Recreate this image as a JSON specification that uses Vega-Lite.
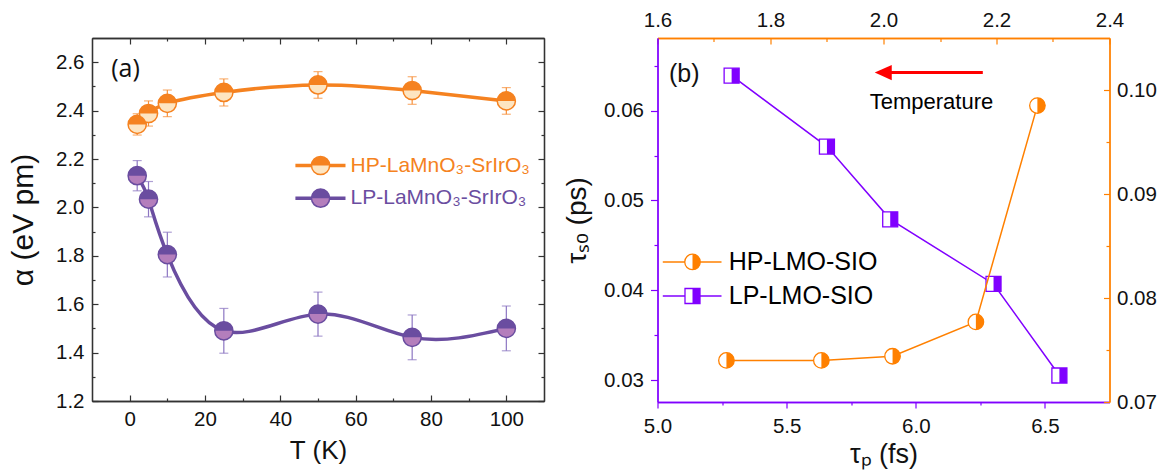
{
  "$schema": "https://vega.github.io/schema/vega-lite/v6.json",
  "background": "white",
  "padding": {"left": 8, "top": 10, "right": 5, "bottom": 5},
  "bounds": "flush",
  "spacing": 113.5,
  "datasets": {
    "alpha": [
      {"T": 2, "alpha": 2.343, "err": 0.044, "series": "HP"},
      {"T": 5, "alpha": 2.388, "err": 0.052, "series": "HP"},
      {"T": 10, "alpha": 2.43, "err": 0.055, "series": "HP"},
      {"T": 25, "alpha": 2.475, "err": 0.056, "series": "HP"},
      {"T": 50, "alpha": 2.506, "err": 0.055, "series": "HP"},
      {"T": 75, "alpha": 2.483, "err": 0.057, "series": "HP"},
      {"T": 100, "alpha": 2.44, "err": 0.055, "series": "HP"},
      {"T": 2, "alpha": 2.131, "err": 0.0625, "series": "LP"},
      {"T": 5, "alpha": 2.034, "err": 0.073, "series": "LP"},
      {"T": 10, "alpha": 1.805, "err": 0.0925, "series": "LP"},
      {"T": 25, "alpha": 1.49, "err": 0.0925, "series": "LP"},
      {"T": 50, "alpha": 1.559, "err": 0.091, "series": "LP"},
      {"T": 75, "alpha": 1.463, "err": 0.0925, "series": "LP"},
      {"T": 100, "alpha": 1.5, "err": 0.0925, "series": "LP"}
    ],
    "lp": [
      {"tau_p": 5.287, "tau_so": 0.0639},
      {"tau_p": 5.656, "tau_so": 0.056},
      {"tau_p": 5.901, "tau_so": 0.0479},
      {"tau_p": 6.301, "tau_so": 0.0407},
      {"tau_p": 6.556, "tau_so": 0.0305}
    ],
    "hp": [
      {"tau_p": 1.722, "tau_so": 0.074},
      {"tau_p": 1.89, "tau_so": 0.074},
      {"tau_p": 2.016, "tau_so": 0.0744},
      {"tau_p": 2.1635, "tau_so": 0.0777},
      {"tau_p": 2.2724, "tau_so": 0.0985}
    ]
  },
  "config": {
    "view": {"stroke": null},
    "axis": {
      "grid": false,
      "labelFont": "Liberation Sans",
      "titleFont": "Liberation Sans",
      "labelFontSize": 20.5,
      "titleFontWeight": "normal",
      "labelColor": "#111111",
      "titleColor": "#111111",
      "labelFlush": false,
      "labelOverlap": false,
      "domainWidth": 1.3,
      "tickWidth": 1.2,
      "domainColor": "#333333",
      "tickColor": "#333333"
    }
  },
  "hconcat": [
    {
      "width": 452,
      "height": 363,
      "resolve": {
        "scale": {"fill": "independent", "stroke": "independent", "color": "independent"},
        "axis": {"x": "independent", "y": "independent"}
      },
      "layer": [
        {
          "data": {"name": "alpha"},
          "mark": {"type": "line", "interpolate": "natural", "strokeWidth": 3.5},
          "encoding": {
            "x": {"field": "T", "type": "quantitative", "scale": {"domain": [-10, 110], "nice": false, "zero": false},
              "axis": {"orient": "bottom", "values": [0, 20, 40, 60, 80, 100], "tickSize": -6, "labelPadding": 14, "title": "T (K)", "titleFontSize": 26, "titlePadding": 8}},
            "y": {"field": "alpha", "type": "quantitative", "scale": {"domain": [1.2, 2.7], "nice": false, "zero": false},
              "axis": {"orient": "left", "values": [1.2, 1.4, 1.6, 1.8, 2.0, 2.2, 2.4, 2.6], "format": ".1f", "tickSize": -6, "labelPadding": 14, "title": "α (eV pm)", "titleFontSize": 30, "titlePadding": 17}},
            "stroke": {"field": "series", "type": "nominal", "scale": {"domain": ["HP", "LP"], "range": ["#F58220", "#6A4DA0"]}, "legend": null}
          }
        },
        {
          "data": {"name": "alpha"},
          "mark": {"type": "errorbar", "ticks": {"size": 9, "thickness": 1.2}, "thickness": 1.2},
          "encoding": {
            "x": {"field": "T", "type": "quantitative", "scale": {"domain": [-10, 110], "nice": false, "zero": false}, "axis": null},
            "y": {"field": "alpha", "type": "quantitative", "scale": {"domain": [1.2, 2.7], "nice": false, "zero": false}, "axis": null},
            "yError": {"field": "err"},
            "color": {"field": "series", "type": "nominal", "scale": {"domain": ["HP", "LP"], "range": ["#F7903A", "#8C76C2"]}, "legend": null}
          }
        },
        {
          "data": {"name": "alpha"},
          "mark": {"type": "point", "shape": "circle", "filled": true, "size": 330, "strokeWidth": 1.5, "opacity": 1},
          "encoding": {
            "x": {"field": "T", "type": "quantitative", "scale": {"domain": [-10, 110], "nice": false, "zero": false},
              "axis": {"orient": "bottom", "values": [10, 30, 50, 70, 90], "tickSize": -3, "labels": false, "title": null}},
            "y": {"field": "alpha", "type": "quantitative", "scale": {"domain": [1.2, 2.7], "nice": false, "zero": false},
              "axis": {"orient": "left", "values": [1.3, 1.5, 1.7, 1.9, 2.1, 2.3, 2.5], "tickSize": -3, "labels": false, "title": null}},
            "fill": {"field": "series", "type": "nominal", "scale": {"domain": ["HP", "LP"], "range": ["#FDE5C2", "#B47EBC"]}, "legend": null},
            "stroke": {"field": "series", "type": "nominal", "scale": {"domain": ["HP", "LP"], "range": ["#F58220", "#6A4DA0"]}, "legend": null}
          }
        },
        {
          "data": {"name": "alpha"},
          "mark": {"type": "point", "shape": "M-1,0 A1,1 0 0,1 1,0 Z", "filled": true, "size": 330, "strokeWidth": 0, "opacity": 1},
          "encoding": {
            "x": {"field": "T", "type": "quantitative", "scale": {"domain": [-10, 110], "nice": false, "zero": false},
              "axis": {"orient": "top", "values": [0, 20, 40, 60, 80, 100], "tickSize": -6, "labels": false, "title": null}},
            "y": {"field": "alpha", "type": "quantitative", "scale": {"domain": [1.2, 2.7], "nice": false, "zero": false},
              "axis": {"orient": "right", "values": [1.2, 1.4, 1.6, 1.8, 2.0, 2.2, 2.4, 2.6], "tickSize": -6, "labels": false, "title": null}},
            "fill": {"field": "series", "type": "nominal", "scale": {"domain": ["HP", "LP"], "range": ["#F58220", "#6A4DA0"]}, "legend": null}
          }
        },
        {
          "data": {"values": [{}]},
          "mark": {"type": "rule", "strokeWidth": 3.5, "color": "#F58220"},
          "encoding": {
            "x": {"datum": 44.0, "type": "quantitative", "scale": {"domain": [-10, 110], "nice": false, "zero": false},
              "axis": {"orient": "top", "values": [10, 30, 50, 70, 90], "tickSize": -3, "labels": false, "title": null}},
            "x2": {"datum": 57.3},
            "y": {"datum": 2.173, "type": "quantitative", "scale": {"domain": [1.2, 2.7], "nice": false, "zero": false},
              "axis": {"orient": "right", "values": [1.3, 1.5, 1.7, 1.9, 2.1, 2.3, 2.5], "tickSize": -3, "labels": false, "title": null}}
          }
        },
        {
          "data": {"values": [{}]},
          "mark": {"type": "point", "shape": "circle", "filled": true, "size": 330, "strokeWidth": 1.5, "opacity": 1, "fill": "#FDE5C2", "stroke": "#F58220"},
          "encoding": {
            "x": {"datum": 50.68, "type": "quantitative", "scale": {"domain": [-10, 110], "nice": false, "zero": false}, "axis": null},
            "y": {"datum": 2.173, "type": "quantitative", "scale": {"domain": [1.2, 2.7], "nice": false, "zero": false}, "axis": null}
          }
        },
        {
          "data": {"values": [{}]},
          "mark": {"type": "point", "shape": "M-1,0 A1,1 0 0,1 1,0 Z", "filled": true, "size": 330, "strokeWidth": 0, "opacity": 1, "fill": "#F58220"},
          "encoding": {
            "x": {"datum": 50.68, "type": "quantitative", "scale": {"domain": [-10, 110], "nice": false, "zero": false}, "axis": null},
            "y": {"datum": 2.173, "type": "quantitative", "scale": {"domain": [1.2, 2.7], "nice": false, "zero": false}, "axis": null}
          }
        },
        {
          "data": {"values": [{}]},
          "mark": {"type": "text", "text": "HP-LaMnO₃-SrIrO₃", "align": "left", "baseline": "middle", "font": "Liberation Sans", "fontSize": 21, "color": "#F58220"},
          "encoding": {
            "x": {"datum": 58.65, "type": "quantitative", "scale": {"domain": [-10, 110], "nice": false, "zero": false}, "axis": null},
            "y": {"datum": 2.173, "type": "quantitative", "scale": {"domain": [1.2, 2.7], "nice": false, "zero": false}, "axis": null}
          }
        },
        {
          "data": {"values": [{}]},
          "mark": {"type": "rule", "strokeWidth": 3.5, "color": "#6A4DA0"},
          "encoding": {
            "x": {"datum": 44.0, "type": "quantitative", "scale": {"domain": [-10, 110], "nice": false, "zero": false}, "axis": null},
            "x2": {"datum": 57.3},
            "y": {"datum": 2.038, "type": "quantitative", "scale": {"domain": [1.2, 2.7], "nice": false, "zero": false}, "axis": null}
          }
        },
        {
          "data": {"values": [{}]},
          "mark": {"type": "point", "shape": "circle", "filled": true, "size": 330, "strokeWidth": 1.5, "opacity": 1, "fill": "#B47EBC", "stroke": "#6A4DA0"},
          "encoding": {
            "x": {"datum": 50.68, "type": "quantitative", "scale": {"domain": [-10, 110], "nice": false, "zero": false}, "axis": null},
            "y": {"datum": 2.038, "type": "quantitative", "scale": {"domain": [1.2, 2.7], "nice": false, "zero": false}, "axis": null}
          }
        },
        {
          "data": {"values": [{}]},
          "mark": {"type": "point", "shape": "M-1,0 A1,1 0 0,1 1,0 Z", "filled": true, "size": 330, "strokeWidth": 0, "opacity": 1, "fill": "#6A4DA0"},
          "encoding": {
            "x": {"datum": 50.68, "type": "quantitative", "scale": {"domain": [-10, 110], "nice": false, "zero": false}, "axis": null},
            "y": {"datum": 2.038, "type": "quantitative", "scale": {"domain": [1.2, 2.7], "nice": false, "zero": false}, "axis": null}
          }
        },
        {
          "data": {"values": [{}]},
          "mark": {"type": "text", "text": "LP-LaMnO₃-SrIrO₃", "align": "left", "baseline": "middle", "font": "Liberation Sans", "fontSize": 21, "color": "#6A4DA0"},
          "encoding": {
            "x": {"datum": 58.65, "type": "quantitative", "scale": {"domain": [-10, 110], "nice": false, "zero": false}, "axis": null},
            "y": {"datum": 2.038, "type": "quantitative", "scale": {"domain": [1.2, 2.7], "nice": false, "zero": false}, "axis": null}
          }
        },
        {
          "data": {"values": [{}]},
          "mark": {"type": "text", "text": "(a)", "align": "center", "baseline": "middle", "font": "Open Sans", "fontSize": 25, "color": "#111111"},
          "encoding": {
            "x": {"datum": -1.1, "type": "quantitative", "scale": {"domain": [-10, 110], "nice": false, "zero": false}, "axis": null},
            "y": {"datum": 2.572, "type": "quantitative", "scale": {"domain": [1.2, 2.7], "nice": false, "zero": false}, "axis": null}
          }
        }
      ]
    },
    {
      "width": 452,
      "height": 364,
      "resolve": {
        "scale": {"x": "independent", "y": "independent"},
        "axis": {"x": "independent", "y": "independent"}
      },
      "layer": [
        {
          "data": {"name": "lp"},
          "mark": {"type": "line", "strokeWidth": 1.5, "color": "#8000FF"},
          "encoding": {
            "x": {"field": "tau_p", "type": "quantitative", "scale": {"domain": [5.0, 6.75], "nice": false, "zero": false},
              "axis": {"orient": "bottom", "values": [5.0, 5.5, 6.0, 6.5], "format": ".1f", "tickSize": 6, "labelPadding": 8, "domainColor": "#8000FF", "tickColor": "#8000FF", "title": "τₚ (fs)", "titleFontSize": 27, "titlePadding": 5}},
            "y": {"field": "tau_so", "type": "quantitative", "scale": {"domain": [0.02755, 0.0681], "nice": false, "zero": false},
              "axis": {"orient": "left", "values": [0.03, 0.04, 0.05, 0.06], "format": ".2f", "tickSize": 7, "labelPadding": 7, "domainColor": "#8000FF", "tickColor": "#8000FF", "title": "τₛₒ (ps)", "titleFontSize": 28, "titlePadding": 12}}
          }
        },
        {
          "data": {"name": "lp"},
          "mark": {"type": "point", "shape": "square", "filled": true, "size": 225, "strokeWidth": 1.3, "opacity": 1, "fill": "white", "stroke": "#8000FF"},
          "encoding": {
            "x": {"field": "tau_p", "type": "quantitative", "scale": {"domain": [5.0, 6.75], "nice": false, "zero": false},
              "axis": {"orient": "bottom", "values": [5.25, 5.75, 6.25], "tickSize": 3, "labels": false, "title": null, "domainColor": "#8000FF", "tickColor": "#8000FF"}},
            "y": {"field": "tau_so", "type": "quantitative", "scale": {"domain": [0.02755, 0.0681], "nice": false, "zero": false},
              "axis": {"orient": "left", "values": [0.035, 0.045, 0.055, 0.065], "tickSize": 3.5, "labels": false, "title": null, "domainColor": "#8000FF", "tickColor": "#8000FF"}}
          }
        },
        {
          "data": {"name": "lp"},
          "mark": {"type": "point", "shape": "M0,-1 L1,-1 L1,1 L0,1 Z", "filled": true, "size": 225, "strokeWidth": 0, "opacity": 1, "fill": "#8000FF"},
          "encoding": {
            "x": {"field": "tau_p", "type": "quantitative", "scale": {"domain": [5.0, 6.75], "nice": false, "zero": false}, "axis": null},
            "y": {"field": "tau_so", "type": "quantitative", "scale": {"domain": [0.02755, 0.0681], "nice": false, "zero": false}, "axis": null}
          }
        },
        {
          "data": {"name": "hp"},
          "mark": {"type": "line", "strokeWidth": 1.5, "color": "#FF8000"},
          "encoding": {
            "x": {"field": "tau_p", "type": "quantitative", "scale": {"domain": [1.6, 2.4], "nice": false, "zero": false},
              "axis": {"orient": "top", "values": [1.6, 1.8, 2.0, 2.2, 2.4], "format": ".1f", "tickSize": -6, "labelPadding": 14, "domainColor": "#FF8000", "tickColor": "#FF8000", "title": null}},
            "y": {"field": "tau_so", "type": "quantitative", "scale": {"domain": [0.07, 0.105], "nice": false, "zero": false},
              "axis": {"orient": "right", "values": [0.07, 0.08, 0.09, 0.1], "format": ".2f", "tickSize": -6, "labelPadding": 13, "domainColor": "#FF8000", "tickColor": "#FF8000", "title": null}}
          }
        },
        {
          "data": {"name": "hp"},
          "mark": {"type": "point", "shape": "circle", "filled": true, "size": 240, "strokeWidth": 1.3, "opacity": 1, "fill": "white", "stroke": "#FF8000"},
          "encoding": {
            "x": {"field": "tau_p", "type": "quantitative", "scale": {"domain": [1.6, 2.4], "nice": false, "zero": false},
              "axis": {"orient": "top", "values": [1.7, 1.9, 2.1, 2.3], "tickSize": -3.5, "labels": false, "title": null, "domainColor": "#FF8000", "tickColor": "#FF8000"}},
            "y": {"field": "tau_so", "type": "quantitative", "scale": {"domain": [0.07, 0.105], "nice": false, "zero": false},
              "axis": {"orient": "right", "values": [0.075, 0.085, 0.095], "tickSize": -3.5, "labels": false, "title": null, "domainColor": "#FF8000", "tickColor": "#FF8000"}}
          }
        },
        {
          "data": {"name": "hp"},
          "mark": {"type": "point", "shape": "M0,-1 A1,1 0 0,1 0,1 Z", "filled": true, "size": 240, "strokeWidth": 0, "opacity": 1, "fill": "#FF8000"},
          "encoding": {
            "x": {"field": "tau_p", "type": "quantitative", "scale": {"domain": [1.6, 2.4], "nice": false, "zero": false}, "axis": null},
            "y": {"field": "tau_so", "type": "quantitative", "scale": {"domain": [0.07, 0.105], "nice": false, "zero": false}, "axis": null}
          }
        },
        {
          "data": {"values": [{}]},
          "mark": {"type": "rule", "strokeWidth": 1.5, "color": "#FF8000"},
          "encoding": {
            "x": {"datum": 5.0205, "type": "quantitative", "scale": {"domain": [5.0, 6.75], "nice": false, "zero": false}, "axis": null},
            "x2": {"datum": 5.2478},
            "y": {"datum": 0.04315, "type": "quantitative", "scale": {"domain": [0.02755, 0.0681], "nice": false, "zero": false}, "axis": null}
          }
        },
        {
          "data": {"values": [{}]},
          "mark": {"type": "point", "shape": "circle", "filled": true, "size": 240, "strokeWidth": 1.3, "opacity": 1, "fill": "white", "stroke": "#FF8000"},
          "encoding": {
            "x": {"datum": 5.1355, "type": "quantitative", "scale": {"domain": [5.0, 6.75], "nice": false, "zero": false}, "axis": null},
            "y": {"datum": 0.04315, "type": "quantitative", "scale": {"domain": [0.02755, 0.0681], "nice": false, "zero": false}, "axis": null}
          }
        },
        {
          "data": {"values": [{}]},
          "mark": {"type": "point", "shape": "M0,-1 A1,1 0 0,1 0,1 Z", "filled": true, "size": 240, "strokeWidth": 0, "opacity": 1, "fill": "#FF8000"},
          "encoding": {
            "x": {"datum": 5.1355, "type": "quantitative", "scale": {"domain": [5.0, 6.75], "nice": false, "zero": false}, "axis": null},
            "y": {"datum": 0.04315, "type": "quantitative", "scale": {"domain": [0.02755, 0.0681], "nice": false, "zero": false}, "axis": null}
          }
        },
        {
          "data": {"values": [{}]},
          "mark": {"type": "text", "text": "HP-LMO-SIO", "align": "left", "baseline": "middle", "font": "Liberation Sans", "fontSize": 25, "color": "#000000"},
          "encoding": {
            "x": {"datum": 5.276, "type": "quantitative", "scale": {"domain": [5.0, 6.75], "nice": false, "zero": false}, "axis": null},
            "y": {"datum": 0.04315, "type": "quantitative", "scale": {"domain": [0.02755, 0.0681], "nice": false, "zero": false}, "axis": null}
          }
        },
        {
          "data": {"values": [{}]},
          "mark": {"type": "rule", "strokeWidth": 1.5, "color": "#8000FF"},
          "encoding": {
            "x": {"datum": 5.0205, "type": "quantitative", "scale": {"domain": [5.0, 6.75], "nice": false, "zero": false}, "axis": null},
            "x2": {"datum": 5.2478},
            "y": {"datum": 0.03936, "type": "quantitative", "scale": {"domain": [0.02755, 0.0681], "nice": false, "zero": false}, "axis": null}
          }
        },
        {
          "data": {"values": [{}]},
          "mark": {"type": "point", "shape": "square", "filled": true, "size": 225, "strokeWidth": 1.3, "opacity": 1, "fill": "white", "stroke": "#8000FF"},
          "encoding": {
            "x": {"datum": 5.1355, "type": "quantitative", "scale": {"domain": [5.0, 6.75], "nice": false, "zero": false}, "axis": null},
            "y": {"datum": 0.03936, "type": "quantitative", "scale": {"domain": [0.02755, 0.0681], "nice": false, "zero": false}, "axis": null}
          }
        },
        {
          "data": {"values": [{}]},
          "mark": {"type": "point", "shape": "M0,-1 L1,-1 L1,1 L0,1 Z", "filled": true, "size": 225, "strokeWidth": 0, "opacity": 1, "fill": "#8000FF"},
          "encoding": {
            "x": {"datum": 5.1355, "type": "quantitative", "scale": {"domain": [5.0, 6.75], "nice": false, "zero": false}, "axis": null},
            "y": {"datum": 0.03936, "type": "quantitative", "scale": {"domain": [0.02755, 0.0681], "nice": false, "zero": false}, "axis": null}
          }
        },
        {
          "data": {"values": [{}]},
          "mark": {"type": "text", "text": "LP-LMO-SIO", "align": "left", "baseline": "middle", "font": "Liberation Sans", "fontSize": 25, "color": "#000000"},
          "encoding": {
            "x": {"datum": 5.276, "type": "quantitative", "scale": {"domain": [5.0, 6.75], "nice": false, "zero": false}, "axis": null},
            "y": {"datum": 0.03936, "type": "quantitative", "scale": {"domain": [0.02755, 0.0681], "nice": false, "zero": false}, "axis": null}
          }
        },
        {
          "data": {"values": [{}]},
          "mark": {"type": "text", "text": "(b)", "align": "center", "baseline": "middle", "font": "Liberation Sans", "fontSize": 25, "color": "#111111"},
          "encoding": {
            "x": {"datum": 5.1038, "type": "quantitative", "scale": {"domain": [5.0, 6.75], "nice": false, "zero": false}, "axis": null},
            "y": {"datum": 0.06413, "type": "quantitative", "scale": {"domain": [0.02755, 0.0681], "nice": false, "zero": false}, "axis": null}
          }
        },
        {
          "data": {"values": [{}]},
          "mark": {"type": "text", "text": "Temperature", "align": "center", "baseline": "middle", "font": "Liberation Sans", "fontSize": 22, "color": "#000000"},
          "encoding": {
            "x": {"datum": 6.0608, "type": "quantitative", "scale": {"domain": [5.0, 6.75], "nice": false, "zero": false}, "axis": null},
            "y": {"datum": 0.06097, "type": "quantitative", "scale": {"domain": [0.02755, 0.0681], "nice": false, "zero": false}, "axis": null}
          }
        },
        {
          "data": {"values": [{}]},
          "mark": {"type": "rule", "strokeWidth": 3, "color": "#FF0000"},
          "encoding": {
            "x": {"datum": 5.88, "type": "quantitative", "scale": {"domain": [5.0, 6.75], "nice": false, "zero": false}, "axis": null},
            "x2": {"datum": 6.2595},
            "y": {"datum": 0.06425, "type": "quantitative", "scale": {"domain": [0.02755, 0.0681], "nice": false, "zero": false}, "axis": null}
          }
        },
        {
          "data": {"values": [{}]},
          "mark": {"type": "point", "shape": "M-1,0 L1,-0.9 L1,0.9 Z", "filled": true, "size": 289, "strokeWidth": 0, "opacity": 1, "fill": "#FF0000"},
          "encoding": {
            "x": {"datum": 5.874, "type": "quantitative", "scale": {"domain": [5.0, 6.75], "nice": false, "zero": false}, "axis": null},
            "y": {"datum": 0.06425, "type": "quantitative", "scale": {"domain": [0.02755, 0.0681], "nice": false, "zero": false}, "axis": null}
          }
        }
      ]
    }
  ]
}
